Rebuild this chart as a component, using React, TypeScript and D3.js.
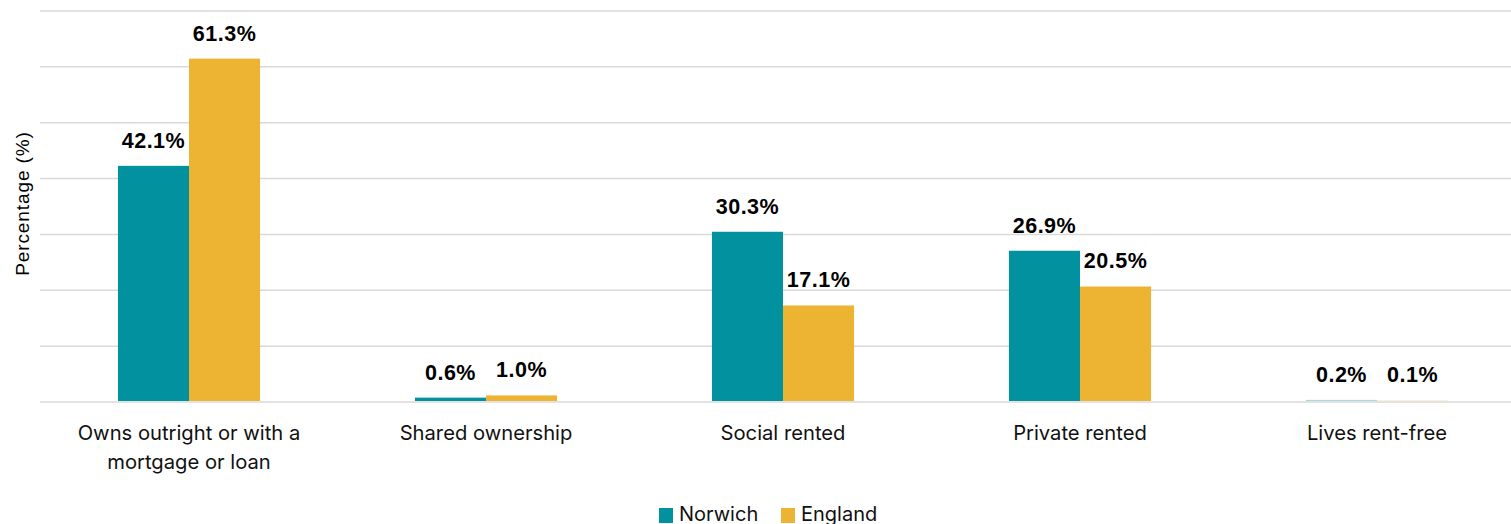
import React from "react";
import * as d3 from "d3";

const categories: string[][] = [
  ["Owns outright or with a", "mortgage or loan"],
  ["Shared ownership"],
  ["Social rented"],
  ["Private rented"],
  ["Lives rent-free"],
];
const seriesNames = ["Norwich", "England"];
const norwich = [42.1, 0.6, 30.3, 26.9, 0.2];
const england = [61.3, 1.0, 17.1, 20.5, 0.1];
const yTicks = [0, 10, 20, 30, 40, 50, 60, 70];
const colors = ["#02919F", "#ECB432"];

const W = 1511;
const H = 524;

export default function App() {
  const keys = categories.map((c) => c.join(" "));
  const x0 = d3.scaleBand<string>().domain(keys).range([40.5, 1525.5]).padding(0);
  const x1 = d3
    .scaleBand<string>()
    .domain(seriesNames)
    .range([0, x0.bandwidth()])
    .paddingInner(0)
    .paddingOuter(1.09);
  const y = d3.scaleLinear().domain([0, 70]).range([402, 11]);
  const color = d3.scaleOrdinal<string, string>().domain(seriesNames).range(colors);
  const values = [norwich, england];

  const labelFont = "'Liberation Sans', Arial, sans-serif";
  const catFont = "Inter, 'Open Sans', sans-serif";

  return (
    <svg
      width={W}
      height={H}
      style={{ position: "absolute", left: 0, top: 0, background: "#fff" }}
    >
      <rect x={0} y={0} width={W} height={H} fill="#fff" />
      {yTicks.map((t) => (
        <line
          key={t}
          x1={40}
          x2={W}
          y1={y(t)}
          y2={y(t)}
          stroke="#d9d9d9"
          strokeWidth={1.5}
        />
      ))}
      {keys.map((k, i) => (
        <g key={k} transform={`translate(${x0(k)},0)`}>
          {seriesNames.map((s, j) => {
            const v = values[j][i];
            return (
              <rect
                key={s}
                x={x1(s)}
                y={y(v) - 1}
                width={x1.bandwidth()}
                height={y(0) - y(v)}
                fill={color(s)}
                fillOpacity={v < 0.5 ? 0.35 : 1}
              />
            );
          })}
          {seriesNames.map((s, j) => {
            const v = values[j][i];
            return (
              <text
                key={s}
                x={(x1(s) as number) + x1.bandwidth() / 2}
                y={y(v) - 19}
                textAnchor="middle"
                fontFamily={labelFont}
                fontWeight="bold"
                fontSize={21.5}
                letterSpacing={0.5}
                fill="#000"
              >
                {v.toFixed(1) + "%"}
              </text>
            );
          })}
          {categories[i].map((line, li) => (
            <text
              key={li}
              x={x0.bandwidth() / 2}
              y={440 + li * 29}
              textAnchor="middle"
              fontFamily={catFont}
              fontSize={20.2}
              fill="#111"
            >
              {line}
            </text>
          ))}
        </g>
      ))}
      <text
        transform={`translate(29,${203.5}) rotate(-90)`}
        textAnchor="middle"
        fontFamily={labelFont}
        fontSize={19}
        letterSpacing={0.9}
        fill="#000"
      >
        Percentage (%)
      </text>
      {seriesNames.map((s, j) => {
        const lx = [659, 781][j];
        return (
          <g key={s}>
            <rect x={lx} y={508} width={14} height={15} fill={color(s)} />
            <text x={lx + 20} y={521} fontFamily={catFont} fontSize={20} fill="#111">
              {s}
            </text>
          </g>
        );
      })}
    </svg>
  );
}
